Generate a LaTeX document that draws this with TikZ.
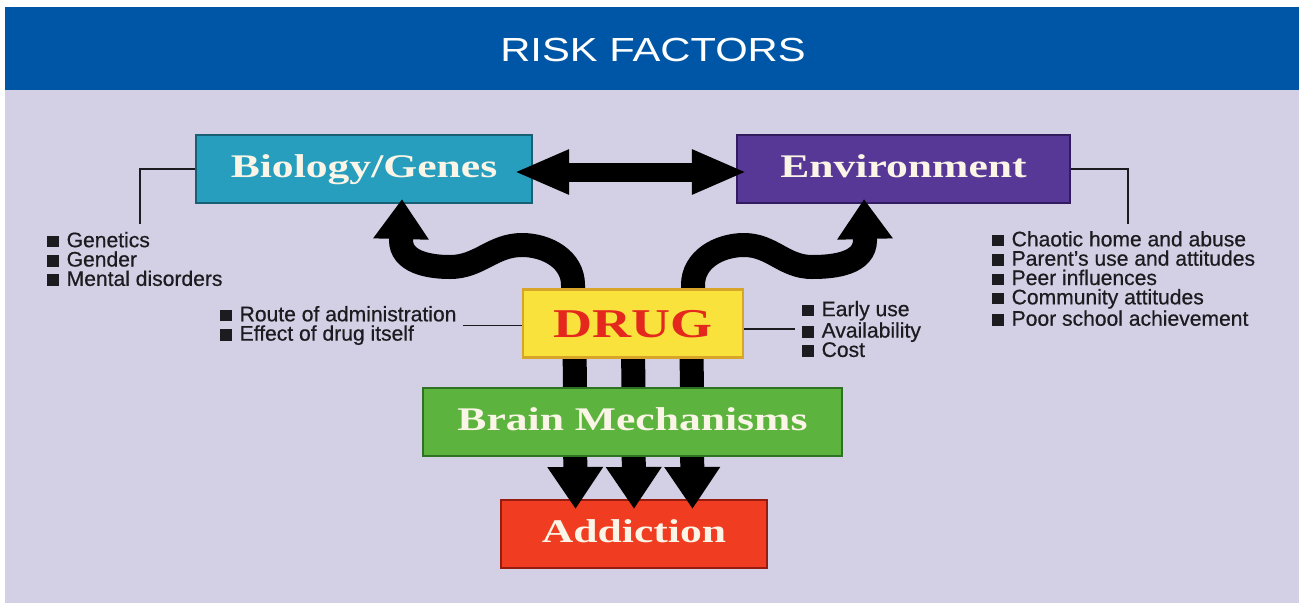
\documentclass[tikz,border=0pt]{standalone}
\usepackage{fontspec}
\setmainfont{Liberation Sans}
\newfontfamily\itemfont{Liberation Sans}[FakeBold=0.6]
\newfontfamily\boxfont{Liberation Serif Bold}[FakeStretch=1.32]
\newfontfamily\titlefont{Liberation Sans}[FakeStretch=1.25]
\usetikzlibrary{arrows.meta}

\definecolor{lavender}{RGB}{211,208,229}
\definecolor{headblue}{RGB}{0,86,166}
\definecolor{biofill}{RGB}{40,158,190}
\definecolor{bioedge}{RGB}{25,95,115}
\definecolor{envfill}{RGB}{88,56,150}
\definecolor{envedge}{RGB}{50,28,95}
\definecolor{drugfill}{RGB}{249,226,60}
\definecolor{drugedge}{RGB}{215,165,40}
\definecolor{drugred}{RGB}{228,40,30}
\definecolor{brainfill}{RGB}{92,180,62}
\definecolor{brainedge}{RGB}{45,115,35}
\definecolor{addfill}{RGB}{240,60,32}
\definecolor{addedge}{RGB}{150,28,15}
\definecolor{boxtext}{RGB}{250,245,230}
\definecolor{ink}{RGB}{28,28,32}

\pgfdeclarelayer{top}
\pgfsetlayers{main,top}

\newcommand{\sq}{\rule{6.5pt}{6.5pt}\hspace{4.5pt}}

\begin{document}
\begin{tikzpicture}[x=0.02cm, y=-0.02cm,
    box/.style={rectangle, minimum height=1.36cm, inner sep=0pt, text=boxtext,
        font=\boxfont\fontsize{18.8}{20}\selectfont, text height=0.46cm, text depth=0.14cm, line width=1.2pt},
    bullets/.style={anchor=west, align=left, inner sep=0pt, text=ink, font=\itemfont\fontsize{12}{11}\selectfont},
    link/.style={draw=ink, line width=1.1pt},
    fat/.style={line width=0.48cm, -{Triangle[width=1.06cm,length=0.8cm]}}]
    \fill[white] (0,0) rectangle (1299,603);
    \fill[lavender] (5,7) rectangle (1299,603);
    \fill[headblue] (5,7) rectangle (1299,90);
    \useasboundingbox (0,0) rectangle (1299,603);

    \node (title) at (653,50) [text=white, font=\titlefont\fontsize{19}{20}\selectfont] {RISK FACTORS};

    \node (bio) at (364,169) [box, fill=biofill, draw=bioedge, minimum width=6.72cm] {Biology/Genes};
    \node (env) at (903.5,169) [box, fill=envfill, draw=envedge, minimum width=6.66cm] {Environment};
    \node (add) at (634,534) [box, fill=addfill, draw=addedge, minimum width=5.32cm] {Addiction};
    \begin{pgfonlayer}{top}
    \node (drug) at (633,323.5) [box, fill=drugfill, draw=drugedge, minimum width=4.4cm, text=drugred,
        font=\boxfont\fontsize{23.3}{24}\selectfont, text height=0.56cm, text depth=0cm] {DRUG};
    \node (brain) at (632.5,422) [box, fill=brainfill, draw=brainedge, minimum width=8.38cm] {Brain Mechanisms};
    \end{pgfonlayer}

    \node (bioitems) at (47,259) [bullets] {\sq Genetics\\ \sq Gender\\ \sq Mental disorders};
    \node (envitems) at (992,278.5) [bullets] {\sq Chaotic home and abuse\\ \sq Parent’s use and attitudes\\
        \sq Peer influences\\ \sq Community attitudes\\ \sq Poor school achievement};
    \node (routeitems) at (220,325.5) [bullets] {\sq Route of administration\\ \sq Effect of drug itself};
    \node (earlyitems) at (802,329) [bullets] {\sq Early use\\ \sq Availability\\ \sq Cost};

    % brackets and ticks
    \coordinate (biotick) at (140,224);
    \coordinate (envtick) at (1128,224);
    \draw[link] (bio.west) -| (biotick);
    \draw[link] (env.east) -| (envtick);
    \draw[link] ([xshift=0.12cm]routeitems.east) -- (drug.west |- routeitems.east);
    \draw[link] (drug.east |- earlyitems.west) -- ([xshift=-0.14cm]earlyitems.west);

    % big arrows
    \draw[line width=0.38cm, {Triangle[width=0.82cm,length=1.1cm]}-{Triangle[width=0.82cm,length=1.1cm]}]
        ([xshift=-0.38cm,yshift=-0.06cm]bio.east) -- ([xshift=0.22cm,yshift=-0.06cm]env.west);
    \foreach \dx in {-1.17,0,1.17}
        \draw[fat, -{Triangle[width=1.06cm,length=0.84cm]}] ([xshift=\dx cm]drug.center) -- ([xshift=\dx cm,yshift=-0.2cm]add.north);
    \draw[fat] ([xshift=-1.2cm]drug.center) -- (573,285) to[out=90,in=0] (522,245) to[out=180,in=0] (450,267)
        to[out=180,in=-90] (401,240) -- ([xshift=0.76cm,yshift=0.1cm]bio.south);
    \draw[fat] ([xshift=1.2cm]drug.center) -- (693,285) to[out=90,in=180] (744,245) to[out=0,in=180] (812,267)
        to[out=0,in=-90] (865,240) -- ([xshift=-0.79cm,yshift=0.1cm]env.south);
\end{tikzpicture}
\end{document}
